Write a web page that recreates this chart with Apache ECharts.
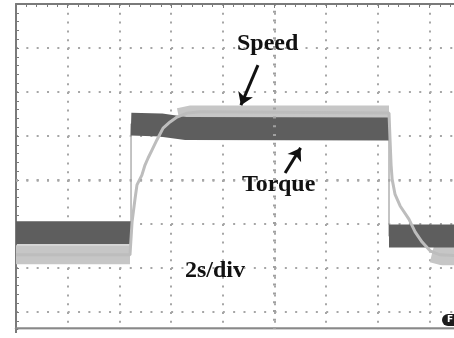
<!DOCTYPE html>
<html><head><meta charset="utf-8">
<script src="https://cdn.jsdelivr.net/npm/echarts@6/dist/echarts.min.js"></script>
<style>html,body{margin:0;padding:0;background:#fff}#c{width:454px;height:338px}</style>
</head><body><div id="c"></div>
<script>
// time axis in seconds (2 s/div, 10 div), level axis in divisions (8 div)
const timeRange = [0, 20];
const timeStep = 2;
const levelRange = [-4, 4];
const levelStep = 1;

// Torque trace (dark noisy band) and its thin step edges
const torqueBand = [[0,-1.2],[4.45,-1.2],[4.45,'-'],[4.45,1.27],[5.6,1.25],[6.6,1.17],[14.43,1.16],[14.43,'-'],[14.43,-1.27],[17,-1.27]];
const torqueEdge = [[0,-1.2],[4.45,-1.2],[4.45,1.27],[5.6,1.25],[6.6,1.17],[14.43,1.16],[14.43,-1.27],[17,-1.27]];

// Speed trace (light gray) and its noise band on steady parts
const speedTrace = [[0,-1.70],[4.41,-1.70],[4.49,-0.95],[4.60,-0.45],[4.68,-0.11],[4.87,0.11],[4.99,0.34],[5.11,0.50],[5.26,0.68],[5.45,0.91],[5.69,1.18],[5.96,1.32],[6.23,1.43],[6.62,1.52],[7.12,1.55],[14.43,1.52],[14.47,0.91],[14.51,0.34],[14.55,0.02],[14.66,-0.32],[14.86,-0.59],[15.20,-0.89],[15.44,-1.18],[15.71,-1.41],[16.02,-1.61],[16.40,-1.70],[17,-1.72]];
const speedBand = [[0,-1.70],[4.41,-1.70],[4.41,'-'],[6.3,1.42],[6.8,1.48],[14.43,1.48],[14.43,'-'],[16.1,-1.66],[16.5,-1.72],[17,-1.72]];

// annotation arrows [from, to] in axis units
const speedArrow = [[9.36,2.61],[8.70,1.70]];
const torqueArrow = [[10.41,0.16],[11.01,0.73]];
const centerTime = 10, centerLevel = 0;

const chart = echarts.init(document.getElementById('c'), null, {renderer:'canvas'});
const gridCol = '#a6a6a6', frameCol = '#7a7a7a';
chart.setOption({
  animation:false,
  backgroundColor:'#fff',
  grid:{left:16, top:4, width:517, height:352, outerBoundsMode:'none', containLabel:false},
  xAxis:[{
    type:'value', min:timeRange[0], max:timeRange[1], interval:timeStep, position:'top',
    axisLine:{show:true, onZero:false, lineStyle:{color:frameCol, width:2}},
    axisTick:{show:true, inside:true, length:4, lineStyle:{color:frameCol}},
    minorTick:{show:true, splitNumber:5, length:3, lineStyle:{color:frameCol}},
    axisLabel:{show:false},
    splitLine:{show:true, lineStyle:{color:gridCol, width:2, type:[2,6.8]}}
  },{
    type:'value', min:timeRange[0], max:timeRange[1], interval:timeStep, position:'bottom', offset:-28,
    axisLine:{show:true, onZero:false, lineStyle:{color:'#888', width:2.5}},
    axisTick:{show:false}, axisLabel:{show:false}, splitLine:{show:false}
  }],
  yAxis:{
    type:'value', min:levelRange[0], max:levelRange[1], interval:levelStep, position:'left',
    axisLine:{show:true, onZero:false, lineStyle:{color:frameCol, width:2}},
    axisTick:{show:true, inside:true, length:3, lineStyle:{color:frameCol}},
    minorTick:{show:true, splitNumber:5, length:3, lineStyle:{color:frameCol}},
    axisLabel:{show:false},
    splitLine:{show:true, lineStyle:{color:gridCol, width:2, type:[2,8.34]}}
  },
  series:[
    {name:'grid-center', type:'line', data:[], silent:true,
     markLine:{silent:true, symbol:['none','none'], label:{show:false},
       data:[{xAxis:centerTime, lineStyle:{color:'#a0a0a0', width:3, type:[2,6.8]}},
             {yAxis:centerLevel, lineStyle:{color:'#a6a6a6', width:2.5, type:[2,8.34]}}]}},
    {name:'SpeedBand', type:'line', data:speedBand, showSymbol:false, connectNulls:false,
     lineStyle:{color:'#c6c6c6', width:19, cap:'butt'}},
    {name:'TorqueEdge', type:'line', data:torqueEdge, showSymbol:false,
     lineStyle:{color:'#b0b0b0', width:1.5}},
    {name:'Torque', type:'line', data:torqueBand, showSymbol:false, connectNulls:false,
     lineStyle:{color:'#5e5e5e', width:23, cap:'butt'}},
    {name:'Speed', type:'line', data:speedTrace, showSymbol:false,
     lineStyle:{color:'#bdbdbd', width:3}},
    {name:'arrows', type:'line', data:[], silent:true,
     markLine:{silent:true, symbol:['none','arrow'], symbolSize:12, label:{show:false},
       lineStyle:{color:'#111', width:3, type:'solid'},
       data:[[{coord:speedArrow[0]},{coord:speedArrow[1]}],[{coord:torqueArrow[0]},{coord:torqueArrow[1]}]]}}
  ],
  graphic:[
    {type:'rect', z:100, shape:{x:18, y:329.5, width:440, height:10}, style:{fill:'#fff'}},
    {type:'rect', z:100, shape:{x:0, y:333, width:460, height:6}, style:{fill:'#fff'}},
    {type:'rect', z:101, shape:{x:442, y:314, width:22, height:12, r:6}, style:{fill:'#1c1c1c'}},
    {type:'text', z:102, style:{text:'F', x:447, y:320, font:'bold 9px "DejaVu Sans"', fill:'#fff', textVerticalAlign:'middle'}},
    {type:'text', z:102, style:{text:'Speed', x:237, y:44, font:'bold 24px "Liberation Serif"', fill:'#111', textVerticalAlign:'middle'}},
    {type:'text', z:102, style:{text:'Torque', x:242, y:185, font:'bold 24px "Liberation Serif"', fill:'#111', textVerticalAlign:'middle'}},
    {type:'text', z:102, style:{text:'2s/div', x:185, y:271, font:'bold 24px "Liberation Serif"', fill:'#111', textVerticalAlign:'middle'}}
  ]
});
</script></body></html>
